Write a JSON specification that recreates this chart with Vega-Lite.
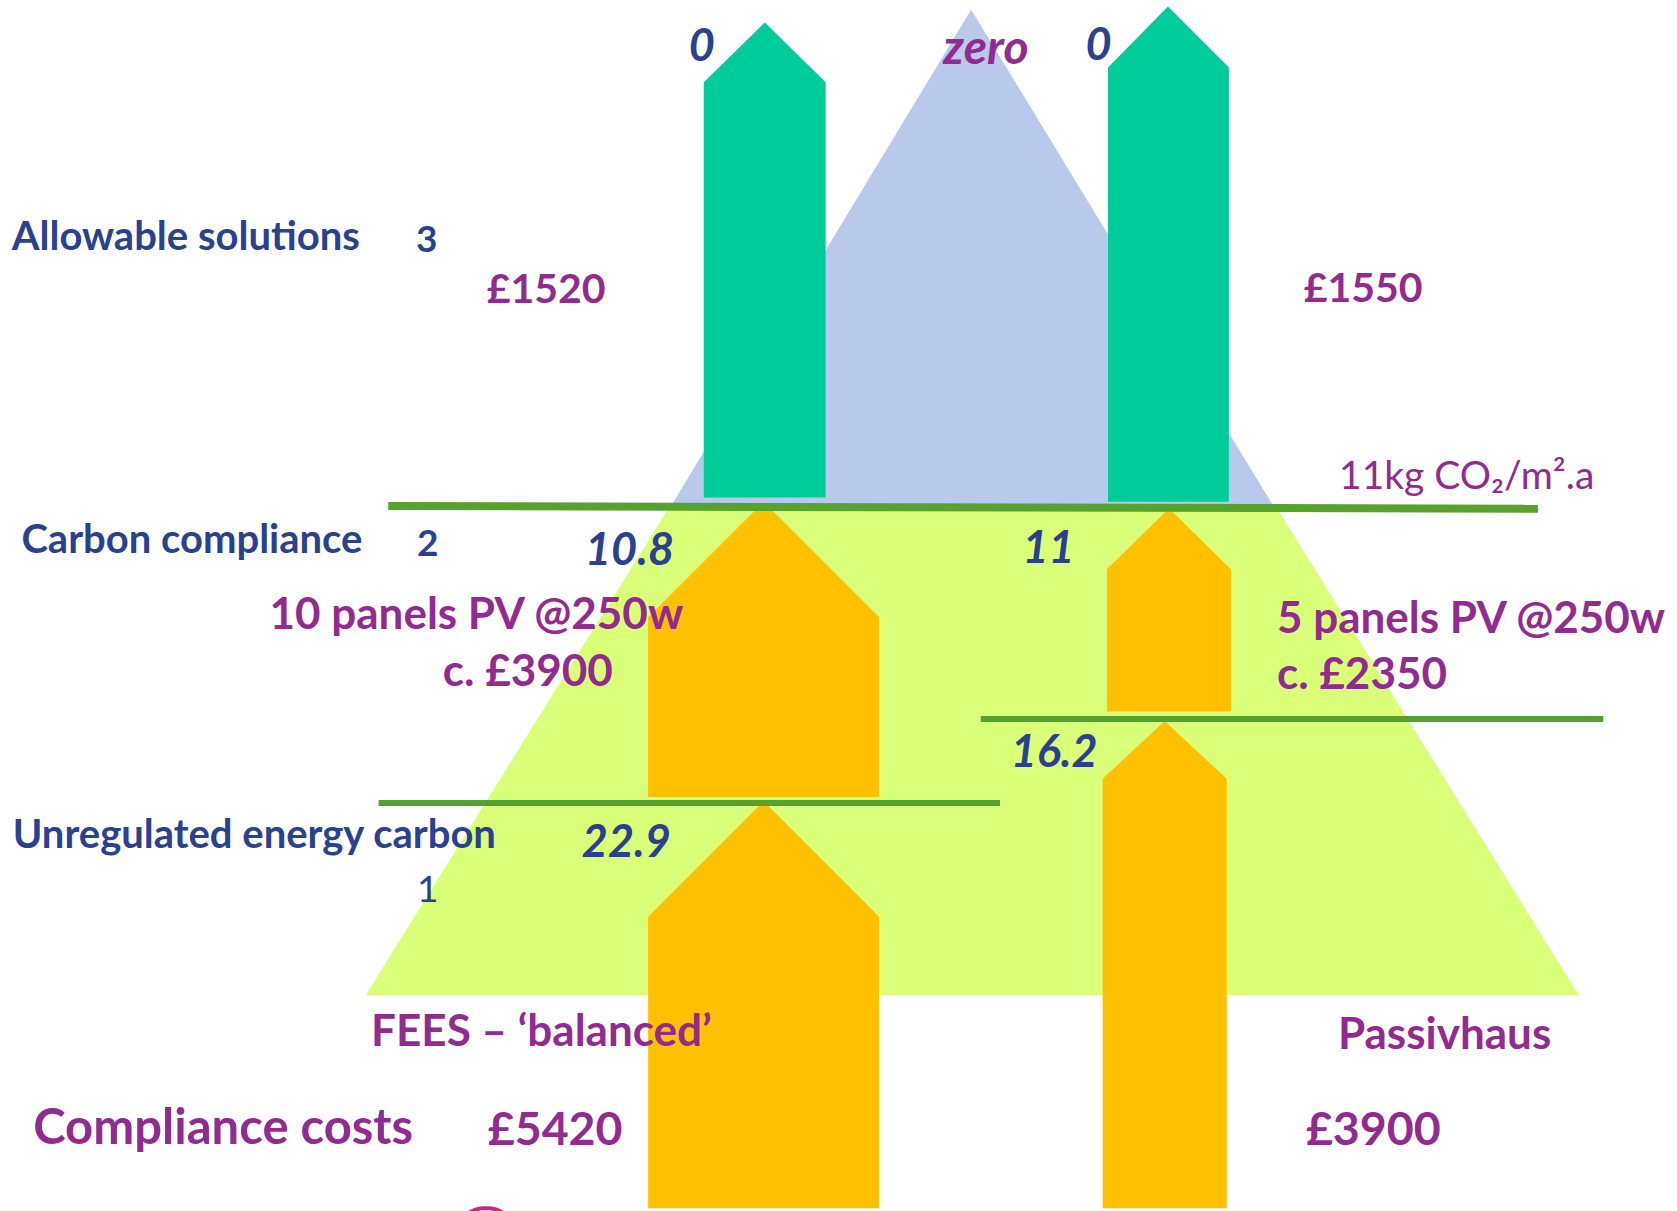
{
  "$schema": "https://vega.github.io/schema/vega-lite/v6.json",
  "autosize": {"type": "fit", "contains": "padding"},
  "width": 1677,
  "height": 1211,
  "padding": 0,
  "background": "white",
  "config": {"view": {"stroke": null}},
  "datasets": {
    "shapes": [
      {"id": "pyramid_base", "part": "lower pyramid", "x": 342, "top": 930, "bottom": 930},
      {"id": "pyramid_base", "part": "lower pyramid", "x": 627, "top": 472, "bottom": 930},
      {"id": "pyramid_base", "part": "lower pyramid", "x": 1192, "top": 472, "bottom": 930},
      {"id": "pyramid_base", "part": "lower pyramid", "x": 1476, "top": 930, "bottom": 930},
      {"id": "pyramid_top", "part": "upper pyramid", "x": 628, "top": 472, "bottom": 472},
      {"id": "pyramid_top", "part": "upper pyramid", "x": 908, "top": 9, "bottom": 472},
      {"id": "pyramid_top", "part": "upper pyramid", "x": 1190, "top": 472, "bottom": 472},
      {"id": "fees_allowable", "part": "allowable solutions", "x": 658, "top": 77, "bottom": 465},
      {"id": "fees_allowable", "part": "allowable solutions", "x": 715, "top": 21, "bottom": 465},
      {"id": "fees_allowable", "part": "allowable solutions", "x": 772, "top": 77, "bottom": 465},
      {"id": "ph_allowable", "part": "allowable solutions", "x": 1036, "top": 63, "bottom": 469},
      {"id": "ph_allowable", "part": "allowable solutions", "x": 1092, "top": 6, "bottom": 469},
      {"id": "ph_allowable", "part": "allowable solutions", "x": 1149, "top": 63, "bottom": 469},
      {"id": "fees_cc", "part": "carbon reduction", "x": 606, "top": 577, "bottom": 745},
      {"id": "fees_cc", "part": "carbon reduction", "x": 714, "top": 469, "bottom": 745},
      {"id": "fees_cc", "part": "carbon reduction", "x": 822, "top": 577, "bottom": 745},
      {"id": "fees_ue", "part": "carbon reduction", "x": 606, "top": 857, "bottom": 1129.5},
      {"id": "fees_ue", "part": "carbon reduction", "x": 714, "top": 749, "bottom": 1129.5},
      {"id": "fees_ue", "part": "carbon reduction", "x": 822, "top": 857, "bottom": 1129.5},
      {"id": "ph_cc", "part": "carbon reduction", "x": 1035, "top": 532, "bottom": 665},
      {"id": "ph_cc", "part": "carbon reduction", "x": 1093, "top": 475, "bottom": 665},
      {"id": "ph_cc", "part": "carbon reduction", "x": 1151, "top": 532, "bottom": 665},
      {"id": "ph_ue", "part": "carbon reduction", "x": 1031, "top": 728, "bottom": 1129.5},
      {"id": "ph_ue", "part": "carbon reduction", "x": 1089, "top": 674, "bottom": 1129.5},
      {"id": "ph_ue", "part": "carbon reduction", "x": 1147, "top": 728, "bottom": 1129.5}
    ],
    "levels": [
      {"kind": "target", "x": 363, "y": 473, "x2": 1438, "y2": 475.5},
      {"kind": "step", "x": 917, "y": 672, "x2": 1499, "y2": 672},
      {"kind": "step", "x": 354, "y": 750.7, "x2": 935, "y2": 750.7}
    ],
    "arc": [
      {"x": 438, "y": 1134},
      {"x": 444, "y": 1131},
      {"x": 451, "y": 1129.5},
      {"x": 458, "y": 1129.5},
      {"x": 465, "y": 1131},
      {"x": 471, "y": 1134}
    ],
    "labels": [
      {"role": "carbon", "label": "0", "x": 644, "y": 57},
      {"role": "target_label", "label": "zero", "x": 882, "y": 60},
      {"role": "carbon", "label": "0", "x": 1015, "y": 56},
      {"role": "stage", "label": "Allowable solutions", "x": 11, "y": 234},
      {"role": "tier", "label": "3", "x": 389, "y": 236},
      {"role": "allowable_cost", "label": "£1520", "x": 455, "y": 283},
      {"role": "allowable_cost", "label": "£1550", "x": 1219, "y": 282},
      {"role": "standard", "label": "11kg CO₂/m².a", "x": 1252, "y": 457},
      {"role": "stage", "label": "Carbon compliance", "x": 20, "y": 517},
      {"role": "tier", "label": "2", "x": 390, "y": 520},
      {"role": "carbon", "label": "10.8", "x": 547, "y": 528},
      {"role": "carbon", "label": "11", "x": 956, "y": 526},
      {"role": "measure", "label": "10 panels PV @250w", "x": 252, "y": 588},
      {"role": "measure", "label": "c. £3900", "x": 414, "y": 641},
      {"role": "measure", "label": "5 panels PV @250w", "x": 1194, "y": 592},
      {"role": "measure", "label": "c. £2350", "x": 1194, "y": 644},
      {"role": "carbon", "label": "16.2", "x": 945, "y": 717},
      {"role": "stage", "label": "Unregulated energy carbon", "x": 12, "y": 793},
      {"role": "carbon", "label": "22.9", "x": 544, "y": 801},
      {"role": "tier_plain", "label": "1", "x": 390, "y": 843},
      {"role": "scenario", "label": "FEES – ‘balanced’", "x": 347, "y": 978},
      {"role": "scenario", "label": "Passivhaus", "x": 1251, "y": 981},
      {"role": "total_heading", "label": "Compliance costs", "x": 31, "y": 1069},
      {"role": "total", "label": "£5420", "x": 456, "y": 1070},
      {"role": "total", "label": "£3900", "x": 1221, "y": 1070}
    ]
  },
  "layer": [
    {
      "data": {"name": "shapes"},
      "transform": [{"filter": "datum.part === 'lower pyramid'"}],
      "mark": {"type": "area", "orient": "vertical", "color": "#DAFF78"},
      "encoding": {
        "x": {"field": "x", "type": "quantitative", "scale": {"domain": [0, 1568], "nice": false, "zero": false}, "axis": null},
        "y": {"field": "top", "type": "quantitative", "scale": {"domain": [0, 1132], "nice": false, "zero": false, "reverse": true}, "axis": null},
        "y2": {"field": "bottom"},
        "detail": {"field": "id"}
      }
    },
    {
      "data": {"name": "shapes"},
      "transform": [{"filter": "datum.part === 'upper pyramid'"}],
      "mark": {"type": "area", "orient": "vertical", "color": "#B9C9EC"},
      "encoding": {
        "x": {"field": "x", "type": "quantitative", "scale": {"domain": [0, 1568], "nice": false, "zero": false}, "axis": null},
        "y": {"field": "top", "type": "quantitative", "scale": {"domain": [0, 1132], "nice": false, "zero": false, "reverse": true}, "axis": null},
        "y2": {"field": "bottom"},
        "detail": {"field": "id"}
      }
    },
    {
      "data": {"name": "shapes"},
      "transform": [{"filter": "datum.part === 'allowable solutions'"}],
      "mark": {"type": "area", "orient": "vertical", "color": "#00CC99"},
      "encoding": {
        "x": {"field": "x", "type": "quantitative", "scale": {"domain": [0, 1568], "nice": false, "zero": false}, "axis": null},
        "y": {"field": "top", "type": "quantitative", "scale": {"domain": [0, 1132], "nice": false, "zero": false, "reverse": true}, "axis": null},
        "y2": {"field": "bottom"},
        "detail": {"field": "id"}
      }
    },
    {
      "data": {"name": "shapes"},
      "transform": [{"filter": "datum.part === 'carbon reduction'"}],
      "mark": {"type": "area", "orient": "vertical", "color": "#FFC000"},
      "encoding": {
        "x": {"field": "x", "type": "quantitative", "scale": {"domain": [0, 1568], "nice": false, "zero": false}, "axis": null},
        "y": {"field": "top", "type": "quantitative", "scale": {"domain": [0, 1132], "nice": false, "zero": false, "reverse": true}, "axis": null},
        "y2": {"field": "bottom"},
        "detail": {"field": "id"}
      }
    },
    {
      "data": {"name": "levels"},
      "transform": [{"filter": "datum.kind === 'target'"}],
      "mark": {"type": "rule", "color": "#57A12F", "strokeWidth": 8},
      "encoding": {
        "x": {"field": "x", "type": "quantitative", "scale": {"domain": [0, 1568], "nice": false, "zero": false}, "axis": null},
        "y": {"field": "y", "type": "quantitative", "scale": {"domain": [0, 1132], "nice": false, "zero": false, "reverse": true}, "axis": null},
        "x2": {"field": "x2"},
        "y2": {"field": "y2"}
      }
    },
    {
      "data": {"name": "levels"},
      "transform": [{"filter": "datum.kind === 'step'"}],
      "mark": {"type": "rule", "color": "#57A12F", "strokeWidth": 6},
      "encoding": {
        "x": {"field": "x", "type": "quantitative", "scale": {"domain": [0, 1568], "nice": false, "zero": false}, "axis": null},
        "y": {"field": "y", "type": "quantitative", "scale": {"domain": [0, 1132], "nice": false, "zero": false, "reverse": true}, "axis": null},
        "x2": {"field": "x2"},
        "y2": {"field": "y2"}
      }
    },
    {
      "data": {"name": "arc"},
      "mark": {"type": "line", "color": "#C8287F", "strokeWidth": 4, "interpolate": "monotone", "clip": true},
      "encoding": {
        "x": {"field": "x", "type": "quantitative", "scale": {"domain": [0, 1568], "nice": false, "zero": false}, "axis": null},
        "y": {"field": "y", "type": "quantitative", "scale": {"domain": [0, 1132], "nice": false, "zero": false, "reverse": true}, "axis": null}
      }
    },
    {
      "data": {"name": "labels"},
      "transform": [{"filter": "datum.role === 'stage'"}],
      "mark": {"type": "text", "align": "left", "baseline": "alphabetic", "font": "Lato", "fontWeight": "bold", "fontSize": 40, "color": "#2A4190"},
      "encoding": {
        "x": {"field": "x", "type": "quantitative", "scale": {"domain": [0, 1568], "nice": false, "zero": false}, "axis": null},
        "y": {"field": "y", "type": "quantitative", "scale": {"domain": [0, 1132], "nice": false, "zero": false, "reverse": true}, "axis": null},
        "text": {"field": "label"}
      }
    },
    {
      "data": {"name": "labels"},
      "transform": [{"filter": "datum.role === 'tier'"}],
      "mark": {"type": "text", "align": "left", "baseline": "alphabetic", "font": "Lato", "fontWeight": "bold", "fontSize": 37, "color": "#2A4190"},
      "encoding": {
        "x": {"field": "x", "type": "quantitative", "scale": {"domain": [0, 1568], "nice": false, "zero": false}, "axis": null},
        "y": {"field": "y", "type": "quantitative", "scale": {"domain": [0, 1132], "nice": false, "zero": false, "reverse": true}, "axis": null},
        "text": {"field": "label"}
      }
    },
    {
      "data": {"name": "labels"},
      "transform": [{"filter": "datum.role === 'tier_plain'"}],
      "mark": {"type": "text", "align": "left", "baseline": "alphabetic", "font": "Lato", "fontWeight": "normal", "fontSize": 37, "color": "#2A4190"},
      "encoding": {
        "x": {"field": "x", "type": "quantitative", "scale": {"domain": [0, 1568], "nice": false, "zero": false}, "axis": null},
        "y": {"field": "y", "type": "quantitative", "scale": {"domain": [0, 1132], "nice": false, "zero": false, "reverse": true}, "axis": null},
        "text": {"field": "label"}
      }
    },
    {
      "data": {"name": "labels"},
      "transform": [{"filter": "datum.role === 'carbon'"}],
      "mark": {"type": "text", "align": "left", "baseline": "alphabetic", "font": "Lato", "fontWeight": "bold", "fontStyle": "italic", "fontSize": 45, "color": "#2A4190"},
      "encoding": {
        "x": {"field": "x", "type": "quantitative", "scale": {"domain": [0, 1568], "nice": false, "zero": false}, "axis": null},
        "y": {"field": "y", "type": "quantitative", "scale": {"domain": [0, 1132], "nice": false, "zero": false, "reverse": true}, "axis": null},
        "text": {"field": "label"}
      }
    },
    {
      "data": {"name": "labels"},
      "transform": [{"filter": "datum.role === 'target_label'"}],
      "mark": {"type": "text", "align": "left", "baseline": "alphabetic", "font": "Lato", "fontWeight": "bold", "fontStyle": "italic", "fontSize": 48, "color": "#922B8F"},
      "encoding": {
        "x": {"field": "x", "type": "quantitative", "scale": {"domain": [0, 1568], "nice": false, "zero": false}, "axis": null},
        "y": {"field": "y", "type": "quantitative", "scale": {"domain": [0, 1132], "nice": false, "zero": false, "reverse": true}, "axis": null},
        "text": {"field": "label"}
      }
    },
    {
      "data": {"name": "labels"},
      "transform": [{"filter": "datum.role === 'allowable_cost'"}],
      "mark": {"type": "text", "align": "left", "baseline": "alphabetic", "font": "Lato", "fontWeight": "bold", "fontSize": 41, "color": "#922B8F"},
      "encoding": {
        "x": {"field": "x", "type": "quantitative", "scale": {"domain": [0, 1568], "nice": false, "zero": false}, "axis": null},
        "y": {"field": "y", "type": "quantitative", "scale": {"domain": [0, 1132], "nice": false, "zero": false, "reverse": true}, "axis": null},
        "text": {"field": "label"}
      }
    },
    {
      "data": {"name": "labels"},
      "transform": [{"filter": "datum.role === 'standard'"}],
      "mark": {"type": "text", "align": "left", "baseline": "alphabetic", "font": "Lato", "fontWeight": "normal", "fontSize": 39, "color": "#922B8F"},
      "encoding": {
        "x": {"field": "x", "type": "quantitative", "scale": {"domain": [0, 1568], "nice": false, "zero": false}, "axis": null},
        "y": {"field": "y", "type": "quantitative", "scale": {"domain": [0, 1132], "nice": false, "zero": false, "reverse": true}, "axis": null},
        "text": {"field": "label"}
      }
    },
    {
      "data": {"name": "labels"},
      "transform": [{"filter": "datum.role === 'measure'"}],
      "mark": {"type": "text", "align": "left", "baseline": "alphabetic", "font": "Lato", "fontWeight": "bold", "fontSize": 44, "color": "#922B8F"},
      "encoding": {
        "x": {"field": "x", "type": "quantitative", "scale": {"domain": [0, 1568], "nice": false, "zero": false}, "axis": null},
        "y": {"field": "y", "type": "quantitative", "scale": {"domain": [0, 1132], "nice": false, "zero": false, "reverse": true}, "axis": null},
        "text": {"field": "label"}
      }
    },
    {
      "data": {"name": "labels"},
      "transform": [{"filter": "datum.role === 'scenario'"}],
      "mark": {"type": "text", "align": "left", "baseline": "alphabetic", "font": "Lato", "fontWeight": "bold", "fontSize": 44, "color": "#922B8F"},
      "encoding": {
        "x": {"field": "x", "type": "quantitative", "scale": {"domain": [0, 1568], "nice": false, "zero": false}, "axis": null},
        "y": {"field": "y", "type": "quantitative", "scale": {"domain": [0, 1132], "nice": false, "zero": false, "reverse": true}, "axis": null},
        "text": {"field": "label"}
      }
    },
    {
      "data": {"name": "labels"},
      "transform": [{"filter": "datum.role === 'total_heading'"}],
      "mark": {"type": "text", "align": "left", "baseline": "alphabetic", "font": "Lato", "fontWeight": "bold", "fontSize": 49, "color": "#922B8F"},
      "encoding": {
        "x": {"field": "x", "type": "quantitative", "scale": {"domain": [0, 1568], "nice": false, "zero": false}, "axis": null},
        "y": {"field": "y", "type": "quantitative", "scale": {"domain": [0, 1132], "nice": false, "zero": false, "reverse": true}, "axis": null},
        "text": {"field": "label"}
      }
    },
    {
      "data": {"name": "labels"},
      "transform": [{"filter": "datum.role === 'total'"}],
      "mark": {"type": "text", "align": "left", "baseline": "alphabetic", "font": "Lato", "fontWeight": "bold", "fontSize": 46.5, "color": "#922B8F"},
      "encoding": {
        "x": {"field": "x", "type": "quantitative", "scale": {"domain": [0, 1568], "nice": false, "zero": false}, "axis": null},
        "y": {"field": "y", "type": "quantitative", "scale": {"domain": [0, 1132], "nice": false, "zero": false, "reverse": true}, "axis": null},
        "text": {"field": "label"}
      }
    }
  ]
}
